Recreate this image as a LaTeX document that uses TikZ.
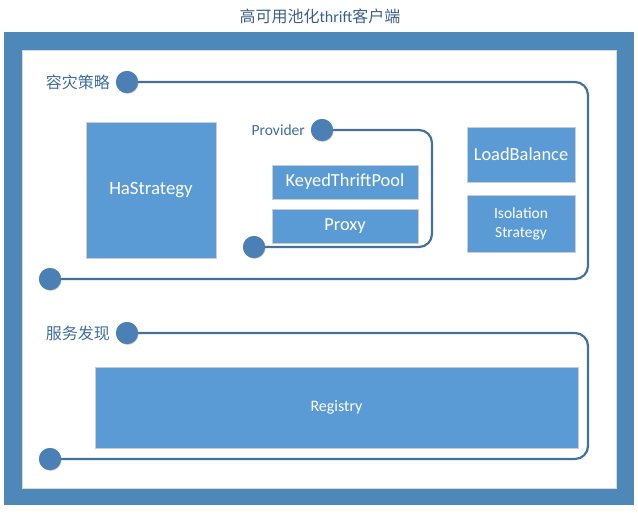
\documentclass[tikz,border=0pt]{standalone}
\usepackage{fontspec}
\setmainfont{Carlito}
\newfontfamily\cjk{Noto Sans CJK SC}
\usetikzlibrary{shadows}
\definecolor{frameblue}{RGB}{78,136,185}
\definecolor{boxblue}{RGB}{91,155,213}
\definecolor{dotblue}{RGB}{74,128,181}
\definecolor{lineblue}{RGB}{66,113,158}
\definecolor{labelblue}{RGB}{62,110,160}
\definecolor{titleblue}{RGB}{60,96,135}
\tikzset{
  bluebox/.style={draw=black!20, line width=0.8pt, fill=boxblue, text=white, inner sep=0pt, align=center},
  dot/.style={circle, fill=dotblue, minimum size=22pt, inner sep=0pt, drop shadow={shadow xshift=0.6pt, shadow yshift=-0.8pt, opacity=0.25}},
  loopline/.style={draw=lineblue, line width=2.2pt, rounded corners=13pt},
  sectlabel/.style={text=labelblue, font=\cjk\fontsize{16}{19}\selectfont, anchor=east, inner sep=0pt}
}
\begin{document}
\begin{tikzpicture}[x=1pt,y=-1pt]
\useasboundingbox (0,0) rectangle (638,513);
% frame
\fill[frameblue] (4,32) rectangle (634,505);
\fill[white, draw=black!15, line width=0.6pt] (22,50) rectangle (616,488);
\node[text=titleblue, font=\fontsize{16}{19}\selectfont] (title) at (320,16) {{\cjk 高可用池化}thrift{\cjk 客户端}};
% dot positions
\node[dot] (c1) at (127,82) {};
\node[dot] (c2) at (50,279) {};
\node[dot] (p1) at (322,130) {};
\node[dot] (p2) at (254,247) {};
\node[dot] (s1) at (127,333) {};
\node[dot] (s2) at (50,459) {};
\draw[loopline] (c1.east) -- (588,82) -- (588,279) -- (c2.east);
\draw[loopline] (p1.east) -- (432,130) -- (432,247) -- (p2.east);
\draw[loopline] (s1.east) -- (588,333) -- (588,459) -- (s2.east);
% redraw dots on top
\node[dot] at (127,82) {};
\node[dot] at (50,279) {};
\node[dot] at (322,130) {};
\node[dot] at (254,247) {};
\node[dot] at (127,333) {};
\node[dot] at (50,459) {};
% labels
\node[sectlabel] (l1) at (110,82) {容灾策略};
\node[sectlabel] (l2) at (110,333) {服务发现};
\node[text=labelblue, font=\fontsize{15.5}{18}\selectfont, anchor=east, inner sep=0pt] (prov) at (305,130) {Provider};
% boxes
\node[bluebox, minimum width=130pt, minimum height=136pt, font=\fontsize{18.8}{22}\selectfont] (ha) at (151,190) {HaStrategy};
\node[bluebox, minimum width=146pt, minimum height=34pt, font=\fontsize{18.4}{22}\selectfont] (ktp) at (345,182) {KeyedThriftPool};
\node[bluebox, minimum width=146pt, minimum height=34pt, font=\fontsize{18.4}{22}\selectfont] (proxy) at (345,226) {Proxy};
\node[bluebox, minimum width=108pt, minimum height=55pt, font=\fontsize{18.4}{22}\selectfont] (lb) at (521,154.5) {LoadBalance};
\node[bluebox, minimum width=108pt, minimum height=57pt, font=\fontsize{15.5}{19}\selectfont] (iso) at (521,223.5) {Isolation\\Strategy};
\node[bluebox, minimum width=483pt, minimum height=81pt, font=\fontsize{16}{19}\selectfont] (reg) at (336.5,407.5) {Registry};
\end{tikzpicture}
\end{document}
